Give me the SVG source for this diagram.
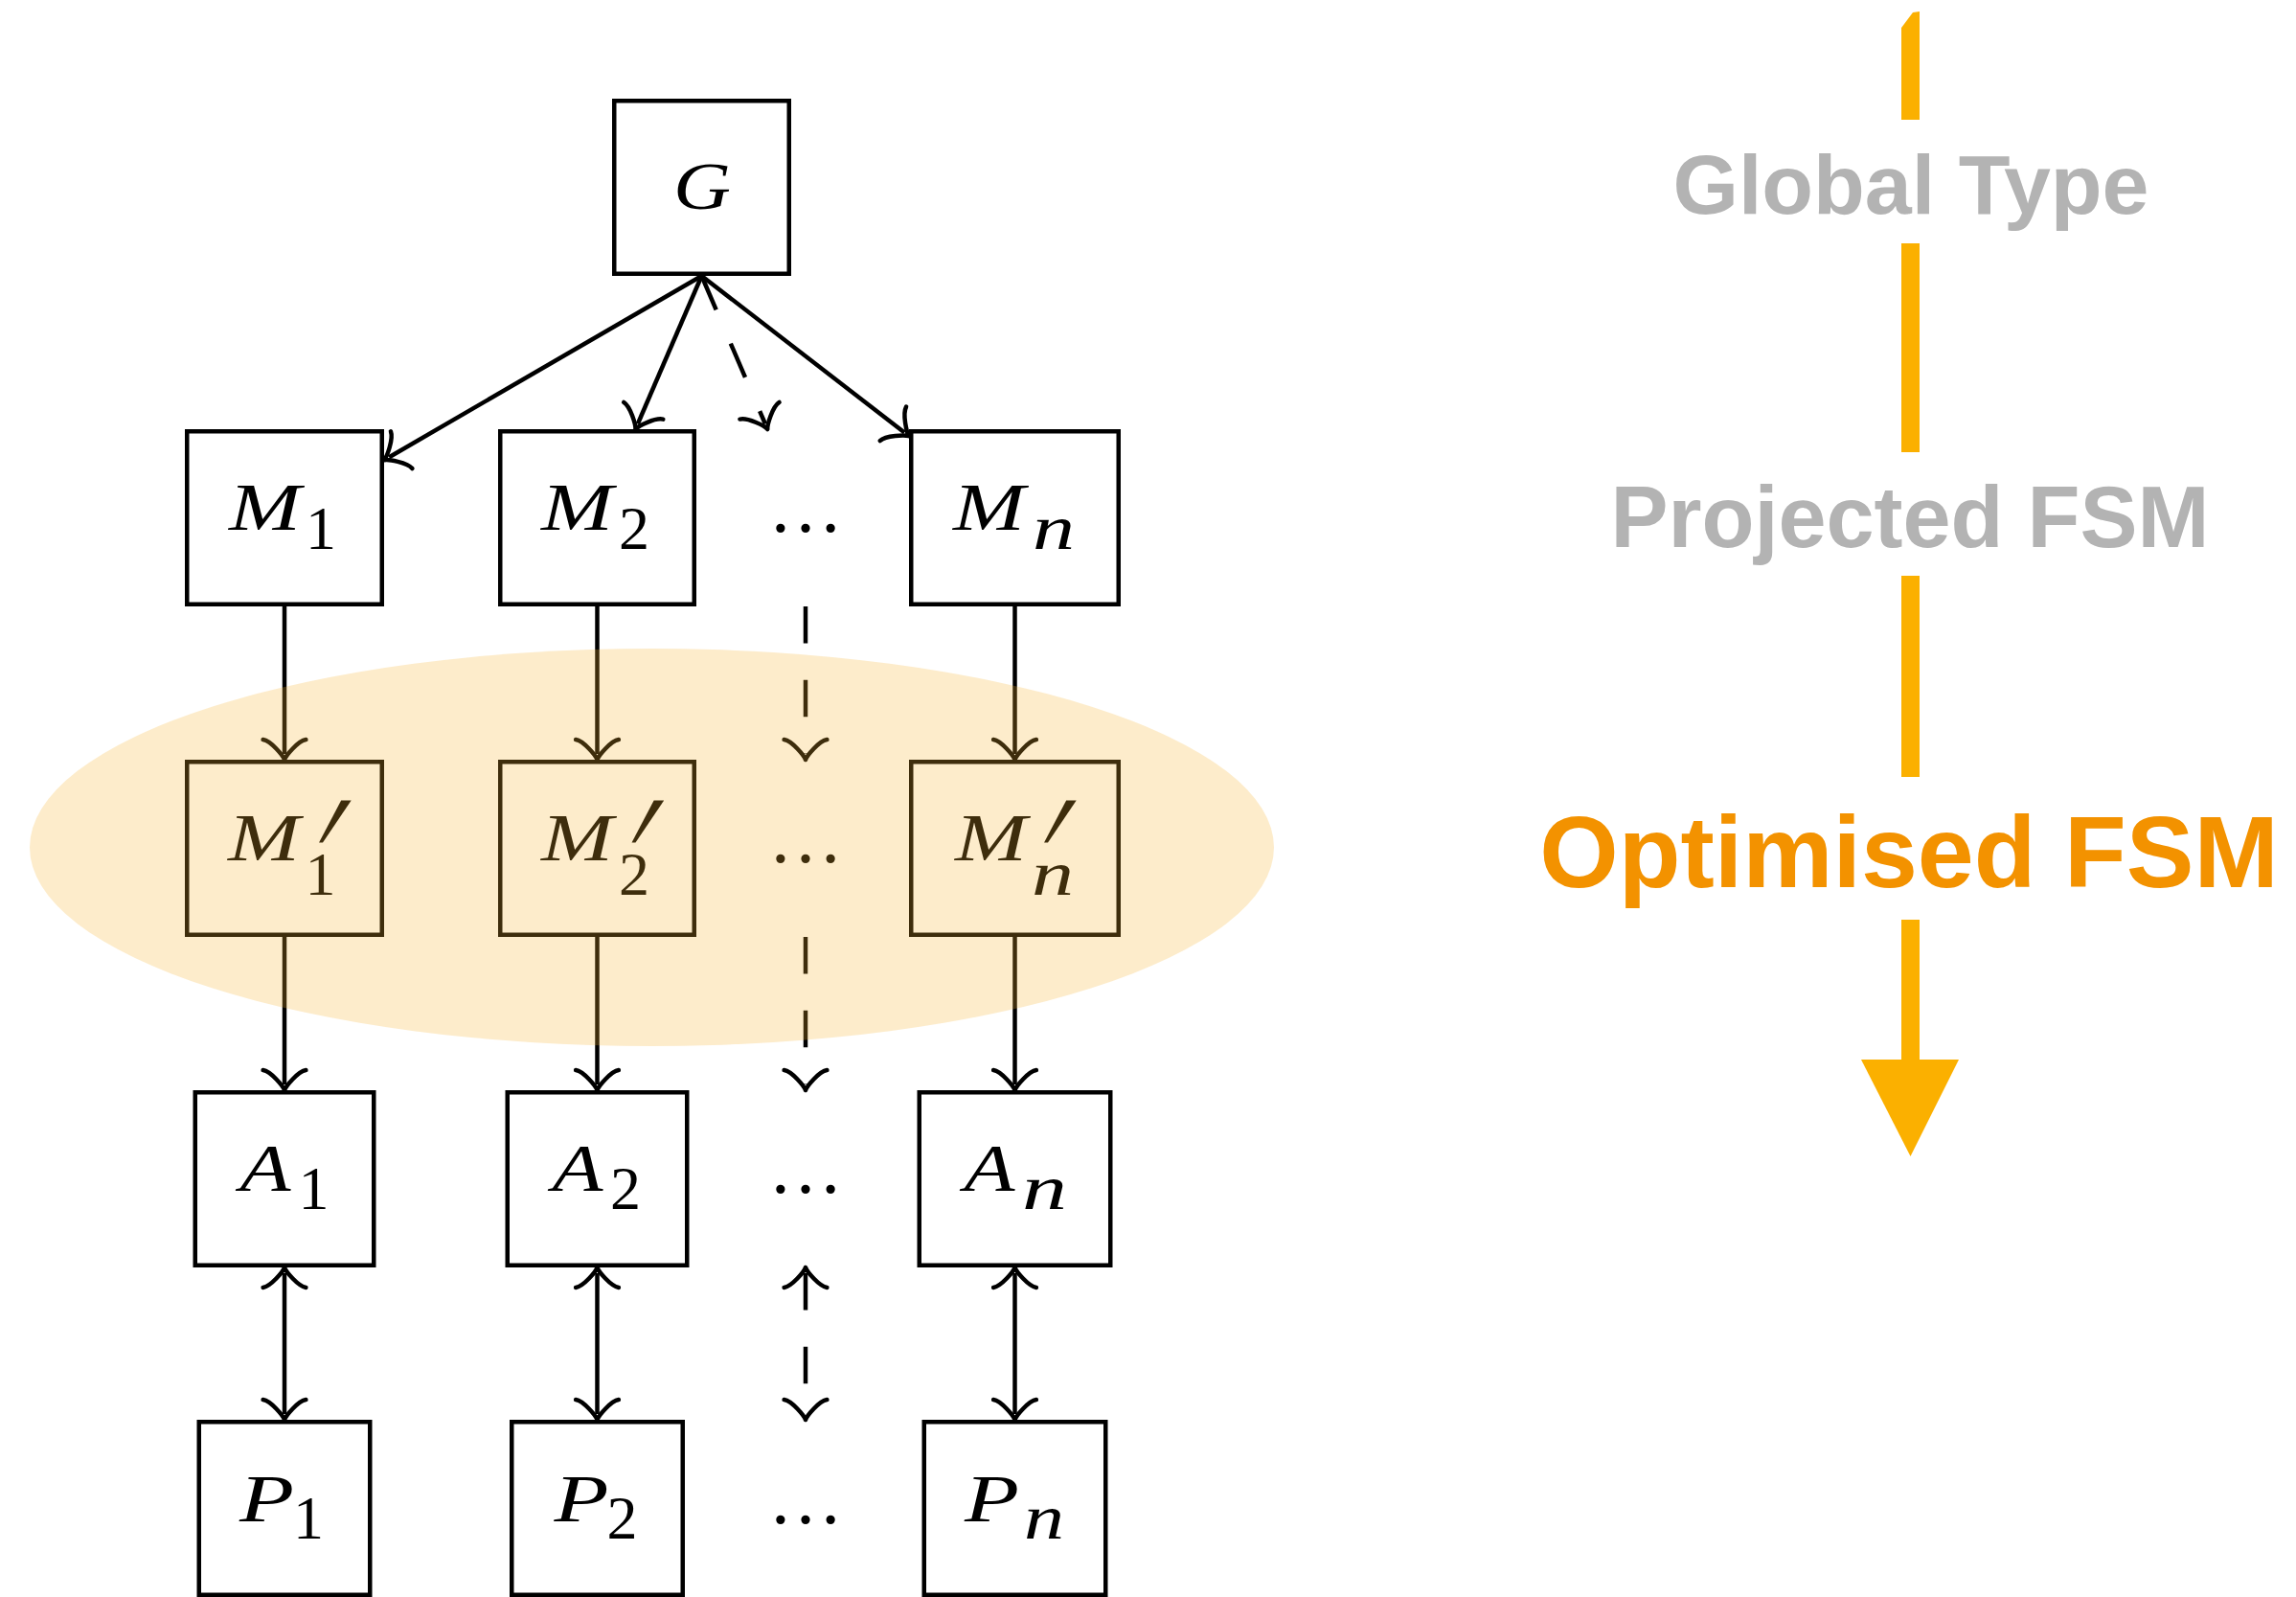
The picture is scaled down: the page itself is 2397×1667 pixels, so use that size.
<svg xmlns="http://www.w3.org/2000/svg" width="2397" height="1667" viewBox="0 0 2397 1667">
  <style>
    .box { fill: none; stroke: #000; stroke-width: 4.5; }
    .edge { fill: none; stroke: #000; stroke-width: 4.5; }
    .dash { stroke-dasharray: 38.4 38.4; }
    .mi { font-family: "Liberation Serif", "DejaVu Serif", serif; font-style: italic; font-size: 70px; fill: #000; }
    .sub { font-family: "Liberation Serif", "DejaVu Serif", serif; font-size: 64px; fill: #000; }
    .subi { font-family: "Liberation Serif", "DejaVu Serif", serif; font-style: italic; font-size: 66px; fill: #000; }
    .prime { font-family: "Liberation Serif", "DejaVu Serif", serif; font-size: 110px; fill: #000; }
    .dots { font-family: "Liberation Serif", serif; font-size: 78px; fill: #000; text-anchor: middle; }
    .stage { font-family: "Liberation Sans", Arial, sans-serif; font-weight: bold; text-anchor: middle; }
    .flow { fill: #FBB000; }
  </style>
  <defs>
    <marker id="to" markerUnits="userSpaceOnUse" orient="auto-start-reverse" refX="-1.8" refY="0" markerWidth="40" markerHeight="60" overflow="visible">
      <path d="M -16.8,22.4 C -15.4,14 0,1.4 4.2,0 C 0,-1.4 -15.4,-14 -16.8,-22.4" fill="none" stroke="#000" stroke-width="4.5" stroke-linecap="round" stroke-linejoin="round" stroke-dasharray="none"/>
    </marker>
  </defs>

  <rect width="2397" height="1667" fill="#fff"/>

  <!-- global type -->
  <g id="node-G">
    <rect class="box" x="641.25" y="105.25" width="182.5" height="180.5"/>
    <text class="mi" x="703" y="218" textLength="60" lengthAdjust="spacingAndGlyphs">G</text>
  </g>

  <!-- projected machines -->
  <g id="node-M1">
    <rect class="box" x="195.25" y="450.25" width="203.5" height="180.5"/>
    <text class="mi" x="239" y="553" textLength="75" lengthAdjust="spacingAndGlyphs">M</text><text class="sub" x="319" y="573">1</text>
  </g>
  <g id="node-M2">
    <rect class="box" x="522.25" y="450.25" width="202.5" height="180.5"/>
    <text class="mi" x="565" y="553" textLength="75" lengthAdjust="spacingAndGlyphs">M</text><text class="sub" x="646" y="573">2</text>
  </g>
  <g id="node-Mdots">
    <text class="dots" x="841" y="555">…</text>
  </g>
  <g id="node-Mn">
    <rect class="box" x="951.25" y="450.25" width="216.5" height="180.5"/>
    <text class="mi" x="995" y="553" textLength="75" lengthAdjust="spacingAndGlyphs">M</text><text class="subi" x="1078" y="573" textLength="44" lengthAdjust="spacingAndGlyphs">n</text>
  </g>

  <!-- optimised machines -->
  <g id="node-M1p">
    <rect class="box" x="195.25" y="795.25" width="203.5" height="180.5"/>
    <text class="mi" x="238" y="898" textLength="75" lengthAdjust="spacingAndGlyphs">M</text>
    <text class="prime" transform="translate(291,958) skewX(-25) scale(1,1.7)">′</text>
    <text class="sub" x="318.5" y="934">1</text>
  </g>
  <g id="node-M2p">
    <rect class="box" x="522.25" y="795.25" width="202.5" height="180.5"/>
    <text class="mi" x="565" y="898" textLength="75" lengthAdjust="spacingAndGlyphs">M</text>
    <text class="prime" transform="translate(617.5,958) skewX(-25) scale(1,1.7)">′</text>
    <text class="sub" x="646" y="934">2</text>
  </g>
  <g id="node-Mpdots">
    <text class="dots" x="841" y="900">…</text>
  </g>
  <g id="node-Mnp">
    <rect class="box" x="951.25" y="795.25" width="216.5" height="180.5"/>
    <text class="mi" x="997" y="898" textLength="75" lengthAdjust="spacingAndGlyphs">M</text>
    <text class="prime" transform="translate(1048,958) skewX(-25) scale(1,1.7)">′</text>
    <text class="subi" x="1077" y="934" textLength="44" lengthAdjust="spacingAndGlyphs">n</text>
  </g>

  <!-- automata -->
  <g id="node-A1">
    <rect class="box" x="203.75" y="1140.25" width="186.5" height="180.5"/>
    <text class="mi" x="250.5" y="1243" textLength="53" lengthAdjust="spacingAndGlyphs">A</text><text class="sub" x="311.5" y="1262">1</text>
  </g>
  <g id="node-A2">
    <rect class="box" x="529.75" y="1140.25" width="187.5" height="180.5"/>
    <text class="mi" x="576.5" y="1243" textLength="53" lengthAdjust="spacingAndGlyphs">A</text><text class="sub" x="637" y="1262">2</text>
  </g>
  <g id="node-Adots">
    <text class="dots" x="841" y="1245">…</text>
  </g>
  <g id="node-An">
    <rect class="box" x="959.75" y="1140.25" width="199.5" height="180.5"/>
    <text class="mi" x="1006.5" y="1243" textLength="53" lengthAdjust="spacingAndGlyphs">A</text><text class="subi" x="1067" y="1262" textLength="47" lengthAdjust="spacingAndGlyphs">n</text>
  </g>

  <!-- processes -->
  <g id="node-P1">
    <rect class="box" x="207.75" y="1484.25" width="178.5" height="180.5"/>
    <text class="mi" x="250" y="1588" textLength="57" lengthAdjust="spacingAndGlyphs">P</text><text class="sub" x="306" y="1605.5">1</text>
  </g>
  <g id="node-P2">
    <rect class="box" x="534.25" y="1484.25" width="178.5" height="180.5"/>
    <text class="mi" x="578.5" y="1588" textLength="57" lengthAdjust="spacingAndGlyphs">P</text><text class="sub" x="633.5" y="1605.5">2</text>
  </g>
  <g id="node-Pdots">
    <text class="dots" x="841" y="1590">…</text>
  </g>
  <g id="node-Pn">
    <rect class="box" x="964.75" y="1484.25" width="189.5" height="180.5"/>
    <text class="mi" x="1007" y="1588" textLength="57" lengthAdjust="spacingAndGlyphs">P</text><text class="subi" x="1069" y="1605.5" textLength="42" lengthAdjust="spacingAndGlyphs">n</text>
  </g>

  <g id="connectors">
    <!-- projection -->
    <path class="edge" d="M732.5,288 L406.2,477.2" marker-end="url(#to)"/>
    <path class="edge" d="M732.5,288 L665.8,442.5" marker-end="url(#to)"/>
    <path class="edge dash" d="M732.5,288 L798.9,442.5" marker-end="url(#to)"/>
    <path class="edge" d="M732.5,288 L944.25,451.5" marker-end="url(#to)"/>
    <!-- optimisation -->
    <path class="edge" d="M297,633 L297,787" marker-end="url(#to)"/>
    <path class="edge" d="M623.5,633 L623.5,787" marker-end="url(#to)"/>
    <path class="edge dash" d="M841,633 L841,787" marker-end="url(#to)"/>
    <path class="edge" d="M1059.5,633 L1059.5,787" marker-end="url(#to)"/>
    <!-- code generation -->
    <path class="edge" d="M297,978 L297,1132" marker-end="url(#to)"/>
    <path class="edge" d="M623.5,978 L623.5,1132" marker-end="url(#to)"/>
    <path class="edge dash" d="M841,978 L841,1132" marker-end="url(#to)"/>
    <path class="edge" d="M1059.5,978 L1059.5,1132" marker-end="url(#to)"/>
    <!-- interaction with processes -->
    <path class="edge" d="M297,1329 L297,1476" marker-start="url(#to)" marker-end="url(#to)"/>
    <path class="edge" d="M623.5,1329 L623.5,1476" marker-start="url(#to)" marker-end="url(#to)"/>
    <path class="edge dash" d="M841,1329 L841,1476" marker-start="url(#to)" marker-end="url(#to)"/>
    <path class="edge" d="M1059.5,1329 L1059.5,1476" marker-start="url(#to)" marker-end="url(#to)"/>
  </g>

  <!-- highlighted stage -->
  <g id="highlight">
    <ellipse cx="680.5" cy="884.5" rx="649.5" ry="207.5" fill="#F6B530" fill-opacity="0.25"/>
  </g>

  <!-- pipeline legend -->
  <g id="legend">
    <path class="flow" d="M1985,29 L1997,13 L2004,12 L2004,125 L1985,125 Z"/>
    <rect class="flow" x="1985" y="254" width="19" height="218"/>
    <rect class="flow" x="1985" y="601" width="19" height="210"/>
    <rect class="flow" x="1985" y="960" width="19" height="148"/>
    <path class="flow" d="M1943,1106 L2045,1106 L1994.5,1207 Z"/>
    <text class="stage" x="1995" y="223" font-size="88" fill="#B3B3B3">Global Type</text>
    <text class="stage" x="1994" y="571" font-size="90" fill="#B3B3B3">Projected FSM</text>
    <text class="stage" x="1993" y="926" font-size="106" fill="#F39200">Optimised FSM</text>
  </g>
</svg>
